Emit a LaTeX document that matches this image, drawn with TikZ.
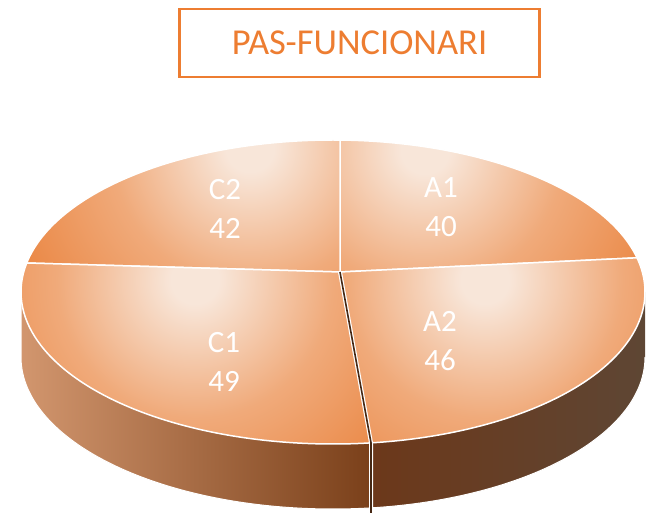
\documentclass[tikz,border=0pt]{standalone}
\usepackage{fontspec}
\setmainfont{Carlito}
\definecolor{titleorange}{RGB}{237,125,49}
\definecolor{pielight}{RGB}{248,230,217}
\definecolor{piemid}{RGB}{240,170,122}
\definecolor{pieorange}{RGB}{232,122,48}
\definecolor{sidetan}{RGB}{210,150,110}
\definecolor{sidebrown}{RGB}{122,64,26}
\definecolor{sidedark}{RGB}{108,56,26}
\definecolor{sidegrey}{RGB}{94,70,52}
\definecolor{gapbrown}{RGB}{70,40,20}
\pgfdeclareradialshading{pieglow}{\pgfpoint{0bp}{0bp}}{color(0bp)=(pielight); color(2bp)=(pielight); color(11.5bp)=(piemid); color(25bp)=(pieorange); color(50bp)=(pieorange)}
\tikzset{
  rim/.style={x radius=312, y radius=152},
  slice edge/.style={draw=white, line width=1.5pt},
  pie label/.style={text=white, font=\fontsize{31}{39}\selectfont, align=center},
}

\begin{document}
\begin{tikzpicture}[x=1pt, y=1pt]
    \useasboundingbox (0, 0) rectangle (648, 513) ;
    % centre of the ellipse, meeting point of the slices
    \coordinate (O) at (333, 221) ;
    \coordinate (P) at (340, 241) ;
    \path (O) ++(13:312 and 152) coordinate (R) ;
    \path (O) ++(88.7:312 and 152) coordinate (T) ;
    \path (O) ++(169:312 and 152) coordinate (L) ;
    \path (O) ++(277:312 and 152) coordinate (B) ;
    \path (O) ++(180:312 and 152) coordinate (W) ;
    % side wall
    \shade[left color=sidetan, right color=sidebrown] (W) arc[start angle=180, end angle=277, rim] -- ++(0, -65) arc[start angle=277, end angle=180, rim] -- cycle ;
    \shade[left color=sidedark, right color=sidegrey] (B) arc[start angle=277, end angle=360, rim] -- ++(0, -65) arc[start angle=360, end angle=277, rim] -- cycle ;
    \draw[white, line width=1pt] (W) -- ++(0, -65) arc[start angle=180, end angle=360, rim] ;
    % A1
    \begin{scope}
      \clip (P) -- (R) arc[start angle=13, end angle=88.7, rim] -- cycle ;
      \shade[shading=pieglow] (425, 363) circle (300) ;
    \end{scope}
    \draw[slice edge] (P) -- (R) arc[start angle=13, end angle=88.7, rim] -- cycle ;
    % C2
    \begin{scope}
      \clip (P) -- (T) arc[start angle=88.7, end angle=169, rim] -- cycle ;
      \shade[shading=pieglow] (250, 365) circle (300) ;
    \end{scope}
    \draw[slice edge] (P) -- (T) arc[start angle=88.7, end angle=169, rim] -- cycle ;
    % C1
    \begin{scope}
      \clip (P) -- (L) arc[start angle=169, end angle=277, rim] -- cycle ;
      \shade[shading=pieglow] (195, 233) circle (300) ;
    \end{scope}
    \draw[slice edge] (P) -- (L) arc[start angle=169, end angle=277, rim] -- cycle ;
    % A2
    \begin{scope}
      \clip (P) -- (B) arc[start angle=277, end angle=373, rim] -- cycle ;
      \shade[shading=pieglow] (485, 233) circle (300) ;
    \end{scope}
    \draw[slice edge] (P) -- (B) arc[start angle=277, end angle=373, rim] -- cycle ;
    % gap between C1 and A2
    \draw[white, line width=4pt] (P) -- (B) -- ++(0, -70) ;
    \draw[gapbrown, line width=1.6pt] (P) -- (B) -- ++(0, -70) ;
    % title and labels
    \node[draw=titleorange, line width=2.5pt, text=titleorange, font=\fontsize{36.5}{44}\selectfont, minimum width=360, minimum height=68] (title) at (359.5, 470) {PAS-FUNCIONARI} ;
    \node[pie label] (c2) at (225, 304) {C2\\42} ;
    \node[pie label] (a1) at (441, 306) {A1\\40} ;
    \node[pie label] (c1) at (224, 151) {C1\\49} ;
    \node[pie label] (a2) at (440, 172) {A2\\46} ;
  \end{tikzpicture}
\end{document}
